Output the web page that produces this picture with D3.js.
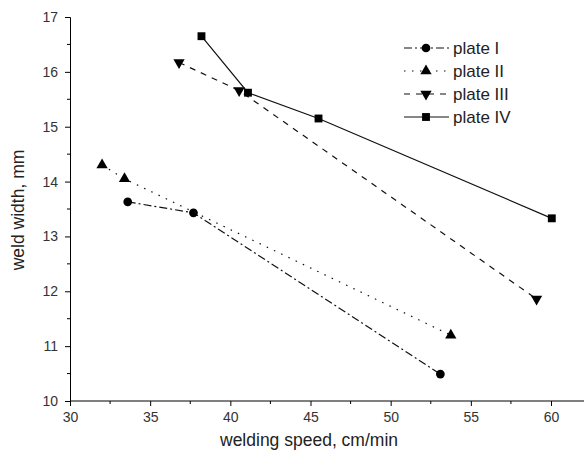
<!DOCTYPE html>
<html><head><meta charset="utf-8">
<script src="https://cdnjs.cloudflare.com/ajax/libs/d3/7.8.5/d3.min.js"></script>
<style>body{margin:0;background:#fff}svg{display:block}text{font-family:"Liberation Sans",Arial,sans-serif;fill:#222}</style>
</head><body>
<script>
const seriesNames = ["plate I","plate II","plate III","plate IV"];
const plateI_x = [33.6, 37.7, 53.1];
const plateI_y = [13.63, 13.43, 10.49];
const plateII_x = [32.0, 33.4, 53.75];
const plateII_y = [14.3, 14.05, 11.2];
const plateIII_x = [36.8, 40.55, 59.1];
const plateIII_y = [16.17, 15.66, 11.86];
const plateIV_x = [38.2, 41.1, 45.5, 60.05];
const plateIV_y = [16.65, 15.62, 15.15, 13.33];
const xTicks = [30,35,40,45,50,55,60];
const yTicks = [10,11,12,13,14,15,16,17];

const W=584,H=457;
const svg=d3.select("body").append("svg").attr("width",W).attr("height",H);
const x=d3.scaleLinear().domain([30,60]).range([70,551]);
const y=d3.scaleLinear().domain([10,17]).range([401,17]);

// axes
const xAxis=d3.axisBottom(x).tickValues(xTicks).tickSize(5).tickPadding(4).tickFormat(d3.format("d"));
const gx=svg.append("g").attr("transform","translate(0,401)").call(xAxis);
gx.select(".domain").attr("d","M70,0H584");
const xMinor=d3.range(32.5,62,5);
gx.selectAll(".minor").data(xMinor).enter().append("line").attr("class","minor")
  .attr("x1",d=>x(d)).attr("x2",d=>x(d)).attr("y1",0).attr("y2",3).attr("stroke","#000");
const yAxis=d3.axisLeft(y).tickValues(yTicks).tickSize(5).tickPadding(7).tickFormat(d3.format("d"));
const gy=svg.append("g").attr("transform","translate(70,0)").call(yAxis);
const yMinor=d3.range(10.5,17,1);
gy.selectAll(".minor").data(yMinor).enter().append("line").attr("class","minor")
  .attr("y1",d=>y(d)).attr("y2",d=>y(d)).attr("x1",0).attr("x2",-3).attr("stroke","#000");
svg.selectAll(".domain, .tick line").attr("stroke","#000").attr("stroke-width",1);
svg.selectAll(".tick text").attr("font-size",14).style("fill","#333");
gx.selectAll(".tick text").attr("dy","0.85em");

svg.append("text").attr("x",309).attr("y",446).attr("text-anchor","middle").attr("font-size",17.5).text("welding speed, cm/min");
svg.append("text").attr("transform","translate(24,210) rotate(-90)").attr("text-anchor","middle").attr("font-size",17.5).text("weld width, mm");

const dashes=["8,3,2,3","1.5,6.5","6,6",null];
const markers=[d3.symbolCircle,d3.symbolTriangle,"down",d3.symbolSquare];
const sizes=[60,55,55,62];
const xs=[plateI_x,plateII_x,plateIII_x,plateIV_x];
const ys=[plateI_y,plateII_y,plateIII_y,plateIV_y];
const line=d3.line().x(d=>x(d[0])).y(d=>y(d[1]));

function marker(g,i,cx,cy){
  const m=markers[i];
  const sym = m==="down"? d3.symbolTriangle : m;
  g.append("path").attr("d",d3.symbol().type(sym).size(sizes[i])())
   .attr("transform",`translate(${cx},${cy})`+(m==="down"?" rotate(180)":""))
   .attr("fill","#000");
}

seriesNames.forEach((n,i)=>{
  const pts=xs[i].map((v,k)=>[v,ys[i][k]]);
  svg.append("path").attr("d",line(pts)).attr("fill","none").attr("stroke","#111")
    .attr("stroke-width",1.2).attr("stroke-dasharray",dashes[i]);
  pts.forEach(p=>marker(svg,i,x(p[0]),y(p[1])));
  // legend
  const ly=48+i*23;
  svg.append("line").attr("x1",404).attr("x2",449).attr("y1",ly).attr("y2",ly)
    .attr("stroke","#111").attr("stroke-width",1.2).attr("stroke-dasharray",dashes[i]);
  marker(svg,i,426,ly);
  svg.append("text").attr("x",453).attr("y",ly+6).attr("font-size",17).text(n);
});
</script>
</body></html>
